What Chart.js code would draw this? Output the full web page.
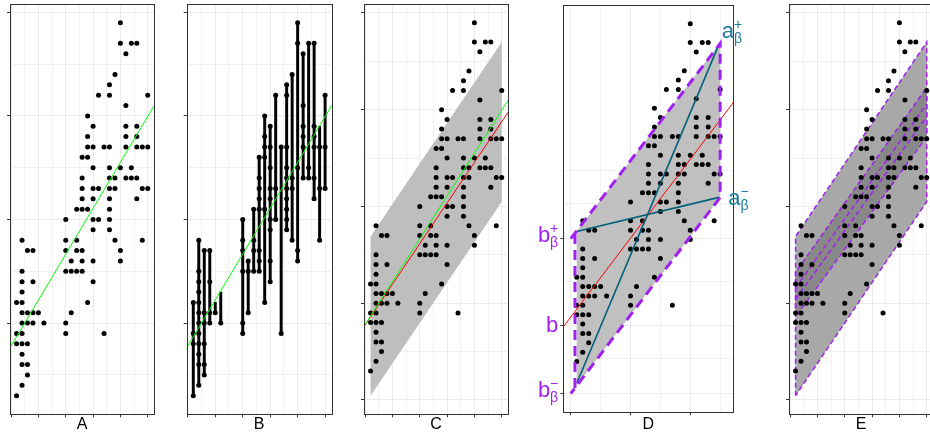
<!DOCTYPE html>
<html>
<head>
<meta charset="utf-8">
<script src="https://cdn.jsdelivr.net/npm/chart.js@4.4.1/dist/chart.umd.min.js"></script>
<style>
  html, body { margin: 0; padding: 0; background: #fff; width: 930px; height: 439px; overflow: hidden; }
  canvas { position: absolute; top: 0; }
</style>
</head>
<body>
<canvas id="pA" width="160" height="439" style="left:0px"></canvas>
<canvas id="pB" width="170" height="439" style="left:170px"></canvas>
<canvas id="pC" width="170" height="439" style="left:345px"></canvas>
<canvas id="pD" width="245" height="439" style="left:515px"></canvas>
<canvas id="pE" width="175" height="439" style="left:775px"></canvas>
<script>
// ---- data ----
// the same point cloud is used in every panel, one row per y level
const pointX = [
  20,
  20, 22, 23,
  21,
  19,
  18,
  16, 18, 25,
  21,
  14,
  15, 21, 23,
  14, 21, 23,
  14, 15, 17, 18, 21, 23, 24, 25,
  13, 14,
  15, 18, 20, 22,
  13, 18, 19, 21, 22, 23,
  13, 15, 16, 18, 19, 24, 25,
  13, 15, 18, 23,
  12, 13, 14, 18,
  10, 15, 16, 18,
  15, 18,
  2, 10, 12, 19, 24,
  3, 4, 10, 12, 13, 20,
  11, 13, 15, 20,
  2, 10, 11, 12, 13,
  2, 4, 15,
  2,
  1, 2, 14,
  2, 3, 4, 5, 11,
  2, 3, 4, 6, 10,
  1, 2, 10, 17,
  1, 2, 3,
  2,
  2, 3,
  3,
  2,
  1
];
const pointY = [
  29,
  27, 27, 27,
  26,
  24,
  23,
  22, 22, 22,
  21,
  20,
  19, 19, 19,
  18, 18, 18,
  17, 17, 17, 17, 17, 17, 17, 17,
  16, 16,
  15, 15, 15, 15,
  14, 14, 14, 14, 14, 14,
  13, 13, 13, 13, 13, 13, 13,
  12, 12, 12, 12,
  11, 11, 11, 11,
  10, 10, 10, 10,
  9, 9,
  8, 8, 8, 8, 8,
  7, 7, 7, 7, 7, 7,
  6, 6, 6, 6,
  5, 5, 5, 5, 5,
  4, 4, 4,
  3,
  2, 2, 2,
  1, 1, 1, 1, 1,
  0, 0, 0, 0, 0,
  -1, -1, -1, -1,
  -2, -2, -2,
  -3,
  -4, -4,
  -5,
  -6,
  -7
];

// panel B: vertical ranges
const rangeX  = [1, 2, 3, 4, 5, 6, 10, 11, 12, 13, 14, 15, 16, 17, 18, 19, 20, 21, 22, 23, 24, 25];
const rangeLo = [-7, -6, -5, 0, 1, 0, -1, 1, 5, 5, 2, 4, 10, -1, 9, 8, 6, 14, 14, 12, 8, 13];
const rangeHi = [2, 8, 7, 7, 2, 3, 10, 6, 11, 16, 20, 19, 22, 17, 23, 24, 29, 26, 27, 27, 19, 22];

// fitted lines, ends lie outside the panels and get clipped
const lineX  = [-2, 28];
const greenY = [-3.97, 22.6];
const redY   = [-3.92, 21.28];

// grey band (C, D and outer band of E)
const bandX  = [1, 25];
const bandLo = [-9.55, 10.5];
const bandHi = [6.9, 27.0];

// E inner band and the dashed lines inside it
const innerLo = [-1.4, 17.2];
const innerHi = [3.2, 22.3];
const midAY   = [0.4, 19.3];
const midBY   = [1.6, 20.6];

// D: dashed outline, diagonals a+ / a-
const dashX    = [0, 25];
const dashLo   = [-10.4, 10.5];
const dashHi   = [6.1, 26.9];
const dashSideX = [0.7, 0.7];
const dashSideY = [-9.82, 6.69];
const diagX    = [1, 24.8];
const aPlusY   = [-9.3, 26.8];
const aMinusY  = [6.86, 10.5];

// D y axis
const dTickY   = [-10.4, -3.1, 6.15];
const dTickSup = ['\u2212', '', '+'];
const dTickSub = ['\u03B2', '', '\u03B2'];
const dMinorY  = [-6.72, 1.53, 9.8, 13.4];

// ---- styles ----
const FONT = '"Liberation Sans", Arial, sans-serif';
const GRID_MAJOR = '#EBEBEB';
const GRID_MINOR = '#F1F1F1';
const PURPLE = '#A020F0';
const TEAL_LINE = '#005F7A';
const TEAL_TEXT = '#1C7C9C';

const cloud = pointX.map((x, i) => ({ x, y: pointY[i] }));
const seg = (xs, ys) => xs.map((x, i) => ({ x, y: ys[i] }));
function poly(xs, lo, hi) {
  return [
    { x: xs[0], y: lo[0] }, { x: xs[0], y: hi[0] },
    { x: xs[1], y: hi[1] }, { x: xs[1], y: lo[1] },
    { x: xs[0], y: lo[0] }
  ];
}

function pointsSet() {
  return { type: 'scatter', data: cloud, pointRadius: 2.5, pointHoverRadius: 2.5,
           backgroundColor: '#000', borderWidth: 0 };
}
function lineSet(data, color, width, dash) {
  return { type: 'line', data, borderColor: color, borderWidth: width, borderDash: dash || [],
           pointRadius: 0, fill: false, tension: 0 };
}
function fillSet(data, color) {
  return { type: 'line', data, borderColor: 'rgba(0,0,0,0)', borderWidth: 0, backgroundColor: color,
           pointRadius: 0, fill: 'shape', tension: 0 };
}

function axis(min, max, majors, minors, extra) {
  const vals = majors.concat(minors).sort((a, b) => a - b);
  return Object.assign({
    type: 'linear', min, max, offset: false,
    afterBuildTicks: s => { s.ticks = vals.map(v => ({ value: v, big: majors.includes(v) })); },
    ticks: { display: false, autoSkip: false },
    grid: {
      color: c => (c.tick && c.tick.big) ? GRID_MAJOR : GRID_MINOR,
      lineWidth: 1,
      tickColor: c => (c.tick && c.tick.big) ? '#333333' : 'rgba(0,0,0,0)',
      tickLength: 3,
      offset: false
    },
    border: { display: false }
  }, extra);
}

const frame = {
  id: 'frame',
  afterDraw(chart) {
    const { ctx, chartArea: a } = chart;
    ctx.save();
    ctx.strokeStyle = '#333333';
    ctx.lineWidth = 1;
    const l = Math.round(a.left) + 0.5, t = Math.round(a.top) + 0.5;
    ctx.strokeRect(l, t, Math.round(a.right) - Math.round(a.left), Math.round(a.bottom) - Math.round(a.top));
    ctx.restore();
  }
};

function drawMath(ctx, x, base, main, sup, sub, color, alignRight) {
  ctx.fillStyle = color;
  ctx.textBaseline = 'alphabetic';
  ctx.textAlign = 'left';
  ctx.font = '22px ' + FONT;
  const wm = ctx.measureText(main).width;
  ctx.font = '14px ' + FONT;
  const ws = Math.max(sup ? ctx.measureText(sup).width : 0, sub ? ctx.measureText(sub).width : 0);
  const left = alignRight ? x - wm - ws : x;
  ctx.font = '22px ' + FONT;
  ctx.fillText(main, left, base);
  ctx.font = '14px ' + FONT;
  if (sup) ctx.fillText(sup, left + wm, base - 9);
  if (sub) ctx.fillText(sub, left + wm, base + 5);
}

const dLabels = {
  id: 'dLabels',
  afterDraw(chart) {
    const { ctx, chartArea, scales } = chart;
    const baseOff = [3.4, 6.5, 3.4];
    ctx.save();
    dTickY.forEach((v, i) => {
      const y = scales.y.getPixelForValue(v);
      drawMath(ctx, chartArea.left - 5, y + baseOff[i], 'b', dTickSup[i], dTickSub[i], PURPLE, true);
    });
    const px = scales.x.getPixelForValue(dashX[1]);
    drawMath(ctx, px + 1.5, scales.y.getPixelForValue(dashHi[1]) - 5.4, 'a', '+', '\u03B2', TEAL_TEXT, false);
    drawMath(ctx, px + 8, scales.y.getPixelForValue(dashLo[1]) + 7.5, 'a', '\u2212', '\u03B2', TEAL_TEXT, false);
    ctx.restore();
  }
};

function makePanel(id, p) {
  return new Chart(document.getElementById(id), {
    type: 'scatter',
    data: { datasets: p.datasets },
    options: {
      responsive: false,
      animation: false,
      devicePixelRatio: 1,
      events: [],
      layout: { padding: { left: 0, right: p.rightPad, top: p.topPad, bottom: 0 } },
      plugins: { legend: { display: false }, tooltip: { enabled: false } },
      scales: {
        x: axis(p.xMin, p.xMax, p.xMajor, p.xMinor, {
          position: 'bottom',
          afterFit: s => { s.height = p.xHeight; },
          title: { display: true, text: p.title, color: '#000',
                   font: { family: FONT, size: 16 }, padding: { top: 0, bottom: 4.4 } }
        }),
        y: axis(p.yMin, p.yMax, p.yMajor, p.yMinor, {
          position: 'left',
          afterFit: s => { s.width = p.yWidth; }
        })
      }
    },
    plugins: [frame].concat(p.plugins || [])
  });
}

const X_MAJOR = [0, 5, 10, 15, 20, 25];
const X_MINOR = [2.5, 7.5, 12.5, 17.5, 22.5];

// A
makePanel('pA', {
  title: 'A', xMin: -0.2, xMax: 26.2, yMin: -8.8, yMax: 30.8,
  xMajor: X_MAJOR, xMinor: X_MINOR, yMajor: [0, 10, 20, 30], yMinor: [-5, 5, 15, 25],
  yWidth: 10, rightPad: 5.7, topPad: 4, xHeight: 24.7,
  datasets: [
    lineSet(seg(lineX, greenY), '#00FF00', 1),
    pointsSet()
  ]
});

// B
makePanel('pB', {
  title: 'B', xMin: -0.2, xMax: 26.2, yMin: -8.8, yMax: 30.8,
  xMajor: X_MAJOR, xMinor: X_MINOR, yMajor: [0, 10, 20, 30], yMinor: [-5, 5, 15, 25],
  yWidth: 16.7, rightPad: 8.3, topPad: 4, xHeight: 24.7,
  datasets: [
    lineSet(seg(lineX, greenY), '#00FF00', 1),
    pointsSet(),
    { type: 'bar', data: rangeX.map((x, i) => ({ x, y: [rangeLo[i], rangeHi[i]] })),
      backgroundColor: '#000', borderWidth: 0, barThickness: 2.3, grouped: false }
  ]
});

// C
makePanel('pC', {
  title: 'C', xMin: -0.2, xMax: 26.2, yMin: -11.48, yMax: 30.93,
  xMajor: X_MAJOR, xMinor: X_MINOR, yMajor: [-10, 0, 10, 20, 30], yMinor: [-5, 5, 15, 25],
  yWidth: 19, rightPad: 6.7, topPad: 4, xHeight: 24.7,
  datasets: [
    lineSet(seg(lineX, greenY), '#00FF00', 1),
    lineSet(seg(lineX, redY), '#FF0000', 1),
    pointsSet(),
    fillSet(poly(bandX, bandLo, bandHi), '#BEBEBE')
  ]
});

// D
makePanel('pD', {
  title: 'D', xMin: -1.25, xMax: 27.2, yMin: -12.4, yMax: 31.0,
  xMajor: [0, 10, 20], xMinor: [5, 15, 25], yMajor: dTickY, yMinor: dMinorY,
  yWidth: 48.3, rightPad: 26.7, topPad: 5, xHeight: 26.7,
  plugins: [dLabels],
  datasets: [
    lineSet([{ x: dashX[0], y: dashHi[0] }, { x: dashX[1], y: dashHi[1] },
             { x: dashX[1], y: dashLo[1] }, { x: dashX[0], y: dashLo[0] }], PURPLE, 3, [10, 6]),
    lineSet(seg(dashSideX, dashSideY), PURPLE, 3, [10, 6]),
    lineSet(seg(diagX, aPlusY), TEAL_LINE, 1.6),
    lineSet(seg(diagX, aMinusY), TEAL_LINE, 1.6),
    lineSet(seg(lineX, redY), '#FF0000', 1),
    pointsSet(),
    fillSet(poly(bandX, bandLo, bandHi), '#C0C0C0')
  ]
});

// E
makePanel('pE', {
  title: 'E', xMin: -0.2, xMax: 26.2, yMin: -11.48, yMax: 30.93,
  xMajor: X_MAJOR, xMinor: X_MINOR, yMajor: [-10, 0, 10, 20, 30], yMinor: [-5, 5, 15, 25],
  yWidth: 14, rightPad: 16.7, topPad: 4, xHeight: 24.7,
  datasets: [
    pointsSet(),
    lineSet(seg(bandX, midAY), PURPLE, 1.5, [5, 3]),
    lineSet(seg(bandX, midBY), PURPLE, 1.5, [5, 3]),
    lineSet(poly(bandX, innerLo, innerHi), PURPLE, 1.5, [5, 3]),
    lineSet(poly(bandX, bandLo, bandHi), PURPLE, 1.5, [5, 3]),
    fillSet(poly(bandX, innerLo, innerHi), '#888888'),
    fillSet(poly(bandX, bandLo, bandHi), '#A8A8A8')
  ]
});
</script>
</body>
</html>
